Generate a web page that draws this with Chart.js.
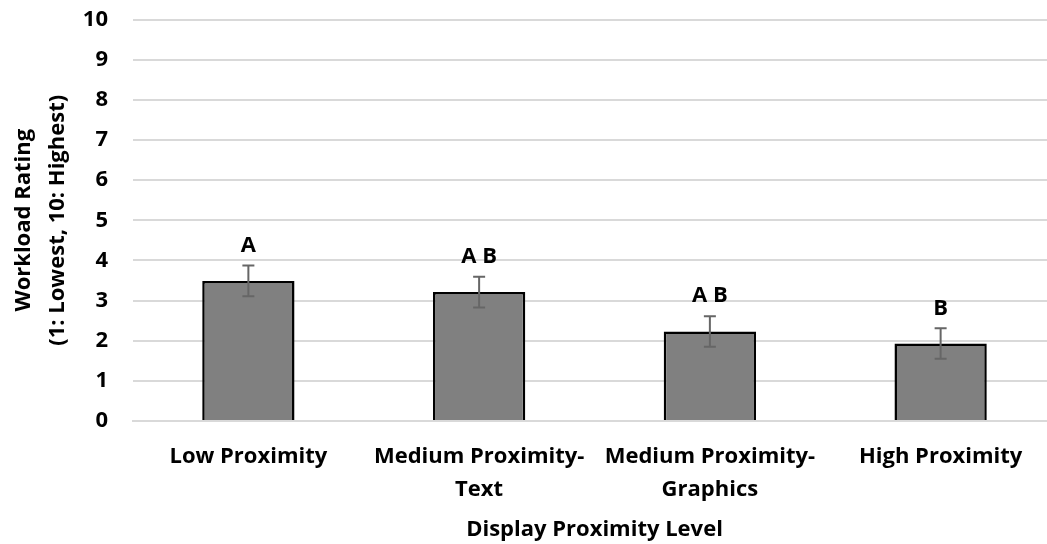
<!DOCTYPE html>
<html>
<head>
<meta charset="utf-8">
<script src="https://cdn.jsdelivr.net/npm/chart.js@4/dist/chart.umd.min.js"></script>
<style>
  html, body { margin: 0; padding: 0; background: #fff; overflow: hidden; }
  #wrap { width: 1064px; height: 544px; position: relative; }
</style>
</head>
<body>
<div id="wrap"><canvas id="c"></canvas></div>
<script>
const categories = [
  'Low Proximity',
  ['Medium Proximity-', 'Text'],
  ['Medium Proximity-', 'Graphics'],
  'High Proximity'
];
const workloadMeans = [3.49, 3.21, 2.23, 1.93];
const workloadErrors = [0.38, 0.38, 0.38, 0.38];
const significanceGroups = ['A', 'A B', 'A B', 'B'];
const yTicks = [0, 1, 2, 3, 4, 5, 6, 7, 8, 9, 10];

const FONT = '"Open Sans", "DejaVu Sans", sans-serif';

const errorBarPlugin = {
  id: 'errorBars',
  afterDatasetsDraw(chart) {
    const ctx = chart.ctx;
    const meta = chart.getDatasetMeta(0);
    const y = chart.scales.y;
    ctx.save();
    meta.data.forEach((bar, i) => {
      const v = workloadMeans[i], e = workloadErrors[i];
      const yt = y.getPixelForValue(v + e);
      const yb = y.getPixelForValue(v - e);
      const x = bar.x;
      ctx.strokeStyle = '#666666';
      ctx.lineWidth = 2;
      ctx.beginPath();
      ctx.moveTo(x, yt); ctx.lineTo(x, yb);
      ctx.moveTo(x - 6, yt); ctx.lineTo(x + 6, yt);
      ctx.moveTo(x - 6, yb); ctx.lineTo(x + 6, yb);
      ctx.stroke();
      ctx.fillStyle = '#000';
      ctx.font = 'bold 22px ' + FONT;
      ctx.textAlign = 'center';
      ctx.textBaseline = 'middle';
      ctx.fillText(significanceGroups[i], x, yt - 20);
    });
    ctx.restore();
  }
};

new Chart(document.getElementById('c'), {
  type: 'bar',
  data: {
    labels: categories,
    datasets: [{
      data: workloadMeans,
      backgroundColor: '#808080',
      borderColor: '#000000',
      borderWidth: 2.5,
      borderSkipped: 'bottom',
      categoryPercentage: 1.0,
      barPercentage: 0.4
    }]
  },
  options: {
    responsive: true,
    maintainAspectRatio: false,
    animation: false,
    layout: { padding: { left: 7, right: 8, top: 19.5, bottom: 0 } },
    plugins: { legend: { display: false }, tooltip: { enabled: false } },
    scales: {
      x: {
        afterFit(scale) {
          scale.height = 123;
          scale.paddingLeft = 0; scale.paddingRight = 0;
          scale.paddingTop = 0; scale.paddingBottom = 0;
        },
        grid: { display: false, drawTicks: false },
        border: { display: true, color: '#d9d9d9', width: 2 },
        ticks: {
          color: '#000',
          font: { family: FONT, size: 22, weight: 'bold', lineHeight: 1.5 },
          padding: 19,
          maxRotation: 0,
          autoSkip: false
        },
        title: {
          display: true,
          text: 'Display Proximity Level',
          color: '#000',
          font: { family: FONT, size: 22, weight: 'bold' },
          padding: { top: 8, bottom: 1 }
        }
      },
      y: {
        min: 0, max: 10,
        afterBuildTicks(scale) { scale.ticks = yTicks.map(v => ({ value: v })); },
        afterFit(scale) {
          scale.width = 126;
          scale.paddingTop = 0; scale.paddingBottom = 0;
          scale.paddingLeft = 0; scale.paddingRight = 0;
        },
        grid: { color: '#d9d9d9', lineWidth: 2, drawTicks: false },
        border: { display: false },
        ticks: {
          color: '#000',
          font: { family: FONT, size: 22, weight: 'bold' },
          padding: 25
        },
        title: {
          display: true,
          text: ['Workload Rating', '(1: Lowest, 10: Highest)'],
          color: '#000',
          font: { family: FONT, size: 22, weight: 'bold', lineHeight: 1.55 },
          padding: { top: 0, bottom: 8 }
        }
      }
    }
  },
  plugins: [errorBarPlugin]
});
</script>
</body>
</html>
